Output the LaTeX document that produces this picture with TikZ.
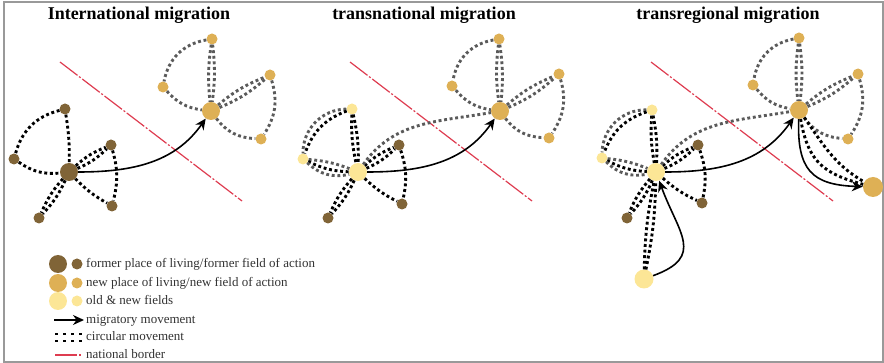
\documentclass[tikz,border=0pt]{standalone}
\usepackage{fontspec}
\setmainfont{Liberation Serif}
\usetikzlibrary{arrows.meta}

\definecolor{formerc}{RGB}{128,100,55}
\definecolor{newc}{RGB}{222,176,85}
\definecolor{bothc}{RGB}{252,230,150}
\definecolor{borderc}{RGB}{222,60,80}
\definecolor{dotgray}{RGB}{90,90,90}
\definecolor{legendc}{RGB}{50,50,50}

\tikzset{
  big/.style={circle, inner sep=0pt, minimum size=18pt},
  small/.style={circle, inner sep=0pt, minimum size=11pt},
  former/.style={fill=formerc},
  newfield/.style={fill=newc},
  both/.style={fill=bothc},
  circmove/.style={line width=2.9pt, dash pattern=on 2.9pt off 2.7pt},
  circgray/.style={circmove, dotgray},
  migratory/.style={line width=1.6pt, -{Stealth[length=11pt, width=10pt, inset=3.5pt]}},
  natborder/.style={borderc, line width=1.2pt, dash pattern=on 22pt off 2pt on 2pt off 2pt},
  paneltitle/.style={font=\fontsize{18}{20}\selectfont\bfseries, anchor=base},
  legentry/.style={font=\fontsize{13}{15}\selectfont, text=legendc, anchor=base west, inner sep=0pt},
}

\begin{document}
\begin{tikzpicture}[x=1pt, y=-1pt]

  \useasboundingbox (0,0) rectangle (884,363);
  \draw[black!40, line width=1.2pt] (4,2) rectangle (883,362);

  \node[paneltitle] (I_title) at (139,20) {International migration};
  \node[paneltitle] (N_title) at (424,20) {transnational migration};
  \node[paneltitle] (R_title) at (728,20) {transregional migration};

  % international migration
  \node[big,former] (I_home) at (69,172) {};
  \node[small,former] (I_h1) at (65,109) {};
  \node[small,former] (I_h2) at (14,159) {};
  \node[small,former] (I_h3) at (111,145) {};
  \node[small,former] (I_h4) at (112,206) {};
  \node[small,former] (I_h5) at (39,218) {};
  \node[big,newfield] (I_dest) at (211,111) {};
  \node[small,newfield] (I_d1) at (212,39) {};
  \node[small,newfield] (I_d2) at (163,87) {};
  \node[small,newfield] (I_d3) at (270,75) {};
  \node[small,newfield] (I_d4) at (261,139) {};
  \coordinate (I_b1) at (60,62);
  \coordinate (I_b2) at (242,201);

  \draw[natborder] (I_b1) -- (I_b2);
  \draw[circmove] (I_h1) to[bend left=5] (I_home);
  \draw[circmove] (I_h1) to[bend right=30] (I_h2);
  \draw[circmove] (I_h2) to[bend right=20] (I_home);
  \draw[circmove] (I_home) to[bend left=10] (I_h3);
  \draw[circmove] (I_home) to[bend right=10] (I_h3);
  \draw[circmove] (I_h3) to[bend left=15] (I_h4);
  \draw[circmove] (I_home) to[bend right=8] (I_h4);
  \draw[circmove] (I_home) to[bend left=9] (I_h5);
  \draw[circmove] (I_home) to[bend right=9] (I_h5);
  \draw[circgray] (I_d1) to[bend left=7] (I_dest);
  \draw[circgray] (I_d1) to[bend right=7] (I_dest);
  \draw[circgray] (I_d1) to[bend right=35] (I_d2);
  \draw[circgray] (I_d2) to[bend right=20] (I_dest);
  \draw[circgray] (I_dest) to[bend left=9] (I_d3);
  \draw[circgray] (I_dest) to[bend right=9] (I_d3);
  \draw[circgray] (I_d3) to[bend left=25] (I_d4);
  \draw[circgray] (I_dest) to[bend right=25] (I_d4);
  \draw[migratory] (I_home) to[out=0, in=235] (I_dest);

  % transnational migration
  \begin{scope}[xshift=289pt]
    \node[big,both] (N_home) at (69,172) {};
    \node[small,both] (N_h1) at (63,109) {};
    \node[small,both] (N_h2) at (14,159) {};
    \node[small,former] (N_h3) at (110,145) {};
    \node[small,former] (N_h4) at (113,204) {};
    \node[small,former] (N_h5) at (39,218) {};
    \node[big,newfield] (N_dest) at (211,111) {};
    \node[small,newfield] (N_d1) at (210,39) {};
    \node[small,newfield] (N_d2) at (163,86) {};
    \node[small,newfield] (N_d3) at (270,74) {};
    \node[small,newfield] (N_d4) at (260,138) {};
    \coordinate (N_b1) at (61,62);
    \coordinate (N_b2) at (243,201);

    \draw[natborder] (N_b1) -- (N_b2);
    \draw[circgray] (N_h1) to[bend right=45] (N_h2);
    \draw[circmove] (N_h1) to[bend right=25] (N_h2);
    \draw[circmove] (N_h1) to[bend left=7] (N_home);
    \draw[circmove] (N_h1) to[bend right=7] (N_home);
    \draw[circgray] (N_h2) to[bend left=8] (N_home);
    \draw[circmove] (N_h2) to[bend right=12] (N_home);
    \draw[circgray] (N_h2) to[bend right=28] (N_home);
    \draw[circmove] (N_home) to[bend left=10] (N_h3);
    \draw[circmove] (N_home) to[bend right=10] (N_h3);
    \draw[circmove] (N_h3) to[bend left=15] (N_h4);
    \draw[circmove] (N_home) to[bend right=8] (N_h4);
    \draw[circmove] (N_home) to[bend left=9] (N_h5);
    \draw[circmove] (N_home) to[bend right=9] (N_h5);
    \draw[circgray] (N_d1) to[bend left=7] (N_dest);
    \draw[circgray] (N_d1) to[bend right=7] (N_dest);
    \draw[circgray] (N_d1) to[bend right=35] (N_d2);
    \draw[circgray] (N_d2) to[bend right=20] (N_dest);
    \draw[circgray] (N_dest) to[bend left=9] (N_d3);
    \draw[circgray] (N_dest) to[bend right=9] (N_d3);
    \draw[circgray] (N_d3) to[bend left=25] (N_d4);
    \draw[circgray] (N_dest) to[bend right=25] (N_d4);
    \draw[circgray] (N_home) to[out=55, in=190] (N_dest);
    \draw[migratory] (N_home) to[out=0, in=235] (N_dest);
  \end{scope}

  % transregional migration
  \begin{scope}[xshift=587pt]
    \node[big,both] (R_home) at (69,172) {};
    \node[small,both] (R_h1) at (65,110) {};
    \node[small,both] (R_h2) at (15,158) {};
    \node[small,former] (R_h3) at (111,145) {};
    \node[small,former] (R_h4) at (115,203) {};
    \node[small,former] (R_h5) at (40,218) {};
    \node[big,newfield] (R_dest) at (212,110) {};
    \node[small,newfield] (R_d1) at (212,38) {};
    \node[small,newfield] (R_d2) at (166,85) {};
    \node[small,newfield] (R_d3) at (271,74) {};
    \node[small,newfield] (R_d4) at (261,139) {};
    \node[big,newfield, minimum size=20pt] (R_next) at (286,187) {};
    \node[big,both, minimum size=19pt] (R_prev) at (57,279) {};
    \coordinate (R_b1) at (64,62);
    \coordinate (R_b2) at (246,201);

    \draw[natborder] (R_b1) -- (R_b2);
    \draw[circgray] (R_h1) to[bend right=45] (R_h2);
    \draw[circmove] (R_h1) to[bend right=25] (R_h2);
    \draw[circmove] (R_h1) to[bend left=7] (R_home);
    \draw[circmove] (R_h1) to[bend right=7] (R_home);
    \draw[circgray] (R_h2) to[bend left=8] (R_home);
    \draw[circmove] (R_h2) to[bend right=12] (R_home);
    \draw[circgray] (R_h2) to[bend right=28] (R_home);
    \draw[circmove] (R_home) to[bend left=10] (R_h3);
    \draw[circmove] (R_home) to[bend right=10] (R_h3);
    \draw[circmove] (R_h3) to[bend left=15] (R_h4);
    \draw[circmove] (R_home) to[bend right=8] (R_h4);
    \draw[circmove] (R_home) to[bend left=9] (R_h5);
    \draw[circmove] (R_home) to[bend right=9] (R_h5);
    \draw[circgray] (R_d1) to[bend left=7] (R_dest);
    \draw[circgray] (R_d1) to[bend right=7] (R_dest);
    \draw[circgray] (R_d1) to[bend right=35] (R_d2);
    \draw[circgray] (R_d2) to[bend right=20] (R_dest);
    \draw[circgray] (R_dest) to[bend left=9] (R_d3);
    \draw[circgray] (R_dest) to[bend right=9] (R_d3);
    \draw[circgray] (R_d3) to[bend left=25] (R_d4);
    \draw[circgray] (R_dest) to[bend right=25] (R_d4);
    \draw[circgray] (R_home) to[out=55, in=190] (R_dest);
    \draw[migratory] (R_home) to[out=0, in=235] (R_dest);
    \draw[circmove] (R_dest) to[out=-80, in=165, looseness=1.2] (R_next);
    \draw[circmove] (R_dest) to[out=-55, in=150] (R_next);
    \draw[migratory] (R_dest) to[out=-92, in=178, looseness=1.4] (R_next);
    \draw[circmove] (R_prev) to[bend left=5] (R_home);
    \draw[circmove] (R_prev) to[bend right=5] (R_home);
    \draw[migratory] (R_prev) to[out=20, in=-70, looseness=1.5] (R_home);
  \end{scope}

  % legend
  \node[big,former] (L_former) at (58,264) {};
  \node[small,former] (L_former2) at (77,264) {};
  \node[legentry] (L_formertext) at (86,268) {former place of living/former field of action};
  \node[big,newfield] (L_new) at (58,283) {};
  \node[small,newfield] (L_new2) at (77,283) {};
  \node[legentry] (L_newtext) at (86,287) {new place of living/new field of action};
  \node[big,both] (L_both) at (58,301) {};
  \node[small,both] (L_both2) at (77,301) {};
  \node[legentry] (L_bothtext) at (86,305) {old \& new fields};
  \coordinate (L_arr1) at (54,320);
  \coordinate (L_arr2) at (84,320);
  \draw[migratory] (L_arr1) -- (L_arr2);
  \node[legentry] (L_arrtext) at (86,324) {migratory movement};
  \coordinate (L_dot1) at (55,334);
  \coordinate (L_dot2) at (84,334);
  \coordinate (L_dot3) at (55,341);
  \coordinate (L_dot4) at (84,341);
  \draw[circmove, dash pattern=on 3pt off 5pt] (L_dot1) -- (L_dot2);
  \draw[circmove, dash pattern=on 3pt off 5pt] (L_dot3) -- (L_dot4);
  \node[legentry] (L_dottext) at (86,341) {circular movement};
  \coordinate (L_bor1) at (55,355);
  \coordinate (L_bor2) at (81,355);
  \draw[natborder] (L_bor1) -- (L_bor2);
  \node[legentry] (L_bortext) at (86,359) {national border};

\end{tikzpicture}
\end{document}
